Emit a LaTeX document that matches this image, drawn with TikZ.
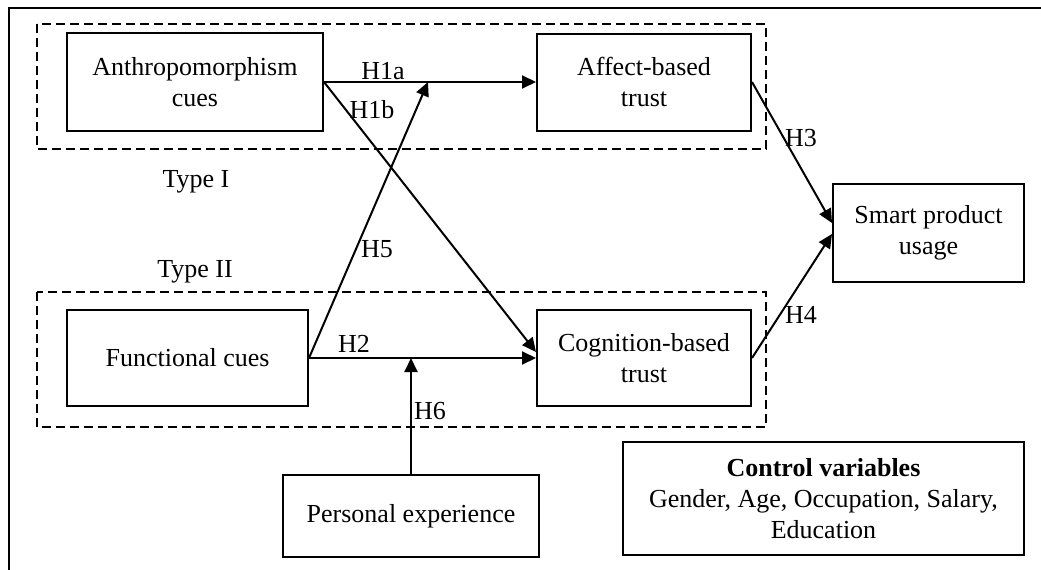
\documentclass[tikz,border=0pt]{standalone}
\usepackage{fontspec}
\setmainfont{Liberation Serif}
\usetikzlibrary{arrows.meta}
\begin{document}
\begin{tikzpicture}[x=1pt,y=-1pt,
  box/.style={draw, line width=2pt, align=center, inner sep=0pt, font=\fontsize{26}{31}\selectfont},
  grp/.style={draw, dash pattern=on 9pt off 5pt, line width=1.6pt},
  lab/.style={inner sep=0pt, font=\fontsize{26}{31}\selectfont},
  arr/.style={line width=2pt, -{Triangle[length=14pt,width=13pt]}},
  ln/.style={line width=2pt}]
\useasboundingbox (0,0) rectangle (1041,570);
% outer frame
\draw[line width=2.2pt] (9,570) -- (9,8) -- (1041,8);
% dashed groups
\draw[grp] (37,24) rectangle (766,149);
\draw[grp] (37,292) rectangle (766,427);
% boxes
\node[box, minimum width=256pt, minimum height=98pt] (anth) at (195,82) {Anthropomorphism\\cues};
\node[box, minimum width=214pt, minimum height=97pt] (aff) at (644,82) {Affect-based\\trust};
\node[box, minimum width=241pt, minimum height=96pt] (func) at (187.5,358) {Functional cues};
\node[box, minimum width=214pt, minimum height=96pt] (cog) at (644,358) {Cognition-based\\trust};
\node[box, minimum width=256pt, minimum height=82pt] (pers) at (411,516) {Personal experience};
\node[box, minimum width=191pt, minimum height=98pt] (smart) at (928.5,233) {Smart product\\usage};
\node[box, minimum width=401pt, minimum height=113pt] (ctrl) at (823.5,498.5) {\textbf{Control variables}\\Gender, Age, Occupation, Salary,\\Education};
% group labels
\node[lab] (t1) at (196,182) {Type I};
\node[lab] (t2) at (195,272) {Type II};
% helper coordinates
\coordinate (h5end) at (428,82);
\coordinate (h6end) at (pers.north |- func.east);
% connectors
\draw[arr] (anth.east) -- (aff.west);
\draw[arr] (anth.east) -- ([yshift=6pt]cog.west);
\draw[arr] (func.east) -- (h5end);
\draw[arr] (func.east) -- (cog.west);
\draw[arr] (pers.north) -- (h6end);
\draw[arr] (aff.east) -- ([yshift=10pt]smart.west);
\draw[arr] (cog.east) -- ([yshift=-1pt]smart.west);
% hypothesis labels
\node[lab] (l1a) at (383,71) {H1a};
\node[lab] (l1b) at (372,110) {H1b};
\node[lab] (l2) at (354,344) {H2};
\node[lab] (l3) at (801,138) {H3};
\node[lab] (l4) at (801,315) {H4};
\node[lab] (l5) at (377,249) {H5};
\node[lab] (l6) at (430,411) {H6};
\end{tikzpicture}
\end{document}
